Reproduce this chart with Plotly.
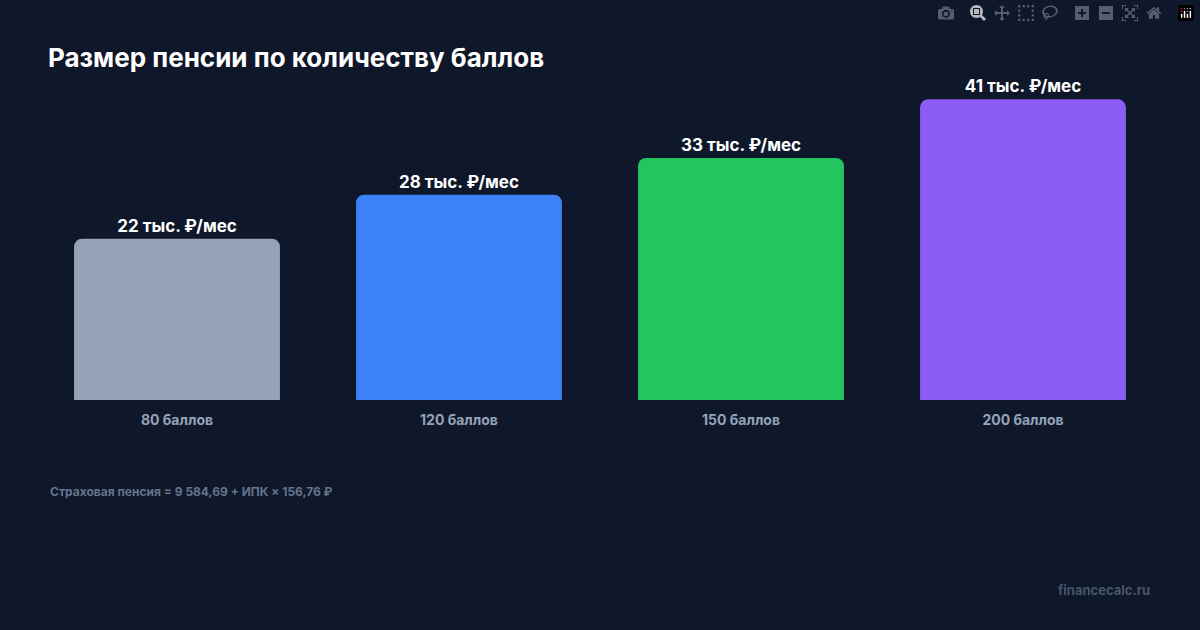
import plotly.graph_objects as go

# данные
categories = ["80 баллов", "120 баллов", "150 баллов", "200 баллов"]
pension = [22, 28, 33, 41]
labels = ["22 тыс. ₽/мес", "28 тыс. ₽/мес", "33 тыс. ₽/мес", "41 тыс. ₽/мес"]
colors = ["#94a3b8", "#3b82f6", "#22c55e", "#8b5cf6"]

BG = "#0f172a"

fig = go.Figure(go.Bar(
    x=categories, y=pension,
    marker=dict(color=colors, line=dict(width=0), cornerradius=8),
    text=labels, textposition="outside", cliponaxis=False,
    textfont=dict(family="Inter", size=17, color="white", weight="bold"),
    hoverinfo="skip",
))

fig.update_layout(
    width=1200, height=630,
    paper_bgcolor=BG, plot_bgcolor=BG,
    margin=dict(l=36, r=36, t=70, b=230),
    bargap=0.27,
    showlegend=False,
    font=dict(family="Inter"),
    xaxis=dict(showgrid=False, zeroline=False, showline=False, ticks="",
               ticklabelstandoff=10,
               tickfont=dict(size=14, color="#94a3b8", weight="bold")),
    yaxis=dict(visible=False, range=[0, 45]),
    title=dict(text="<b>Размер пенсии по количеству баллов</b>",
               x=48 / 1200, xanchor="left", y=1 - 58 / 630, yanchor="middle",
               font=dict(size=26, color="white", family="Inter")),
)

fig.add_annotation(text="<b>Страховая пенсия = 9 584,69 + ИПК × 156,76 ₽</b>",
                   xref="paper", yref="paper", x=(48 - 36) / 1128,
                   y=-91 / 330, xanchor="left", yanchor="middle", showarrow=False,
                   font=dict(size=12, color="#64748b"))
fig.add_annotation(text="<b>financecalc.ru</b>",
                   xref="paper", yref="paper", x=(1152 - 36) / 1128,
                   y=-190 / 330, xanchor="right", yanchor="middle", showarrow=False,
                   font=dict(size=13, color="#475569"))

fig.write_html("out.html",
               post_script="document.body.style.margin='0';document.body.style.background='#0f172a';")
